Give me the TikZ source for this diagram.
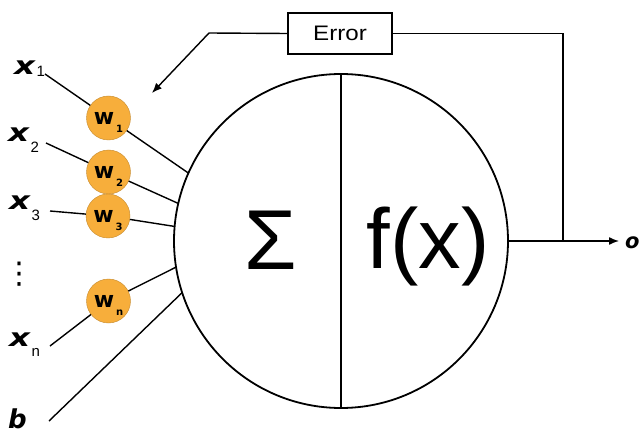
\documentclass[tikz,border=0pt]{standalone}
\usepackage{fontspec}
\setmainfont{Liberation Sans}
\newfontfamily\djv{DejaVu Sans}
\usepackage{graphicx}
\usetikzlibrary{arrows.meta}
\definecolor{worange}{RGB}{247,174,59}
\newcommand\wlab[1]{w\kern2pt\smash{\raisebox{-8pt}{\fontsize{10}{10}\selectfont\bfseries #1}}}
\newcommand\xlab[2]{\scalebox{1.3}[1]{\djv\fontsize{25}{25}\selectfont\bfseries\itshape x}\kern1.5pt\raisebox{#2}{\fontsize{15}{15}\selectfont #1}}
\begin{document}
\begin{tikzpicture}[x=1pt,y=-1pt,
  conn/.style={line width=1.4pt},
  wt/.style={circle,fill=worange,draw=worange!80!black,line width=0.4pt,minimum size=44pt,inner sep=0pt,font=\djv\fontsize{22}{22}\selectfont\bfseries},
  lbl/.style={anchor=base west,inner sep=0pt},
  tip/.style={-{Latex[length=10pt,width=8pt]}}
]
\fill[white] (0,0) rectangle (643,433);
\useasboundingbox (0,0) rectangle (643,433);

% neuron
\node[circle,draw,line width=1.8pt,minimum size=334pt,inner sep=0pt,outer sep=0pt] (neuron) at (341,241) {};
\draw[conn] (neuron.north) -- (neuron.south);
\node[anchor=base,inner sep=0pt,font=\fontsize{85}{85}\selectfont] (sum) at (271,269) {Σ};
\node[anchor=base,inner sep=0pt,font=\fontsize{85}{85}\selectfont] (act) at (428,268) {f(x)};

% error feedback
\node[draw,line width=1.4pt,minimum width=104pt,minimum height=41pt,inner sep=0pt,font=\fontsize{21}{21}\selectfont] (err) at (340,33.5) {\scalebox{1.15}[1]{Error}};
\coordinate (fb) at (209,33);
\coordinate (fbtip) at (152,93);
\node[lbl,font=\djv\fontsize{21}{21}\selectfont\bfseries\itshape] (out) at (625,248) {o};
\coordinate (split) at (563,241);
\draw[conn] (split) |- (err.east);
\draw[conn,tip] (err.west) -- (fb) -- (fbtip);
\draw[conn,tip,shorten >=6pt] (neuron.east) -- (neuron.east -| out.west);

% inputs
\node[lbl] (x1) at (14,75) {\xlab{1}{-2pt}};
\node[lbl] (x2) at (8,142) {\xlab{2}{-11pt}};
\node[lbl] (x3) at (9,210) {\xlab{3}{-10pt}};
\node[inner sep=0pt,font=\djv\fontsize{30}{30}\selectfont] (dots) at (20,274) {⋮};
\node[lbl] (xn) at (9,346) {\xlab{n}{-10pt}};
\node[lbl,font=\djv\fontsize{26}{26}\selectfont\bfseries\itshape] (b) at (8,428) {b};

\coordinate (s1) at (45,74);
\coordinate (s2) at (46,143);
\coordinate (s3) at (50,211);
\coordinate (s4) at (50,346);
\coordinate (s5) at (49,421);

% weights
\node[wt] (w1) at (108.5,118) {\wlab{1}};
\node[wt] (w2) at (108.5,172) {\wlab{2}};
\node[wt] (w3) at (108,216) {\wlab{3}};
\node[wt] (wn) at (108.5,301) {\wlab{n}};

\draw[conn] (s1) -- (w1) -- (neuron.156);
\draw[conn] (s2) -- (w2) -- (neuron.167.4);
\draw[conn] (s3) -- (w3) -- (neuron.175.9);
\draw[conn] (s4) -- (wn) -- (neuron.189.2);
\draw[conn] (s5) -- (neuron.198.9);
\end{tikzpicture}
\end{document}
